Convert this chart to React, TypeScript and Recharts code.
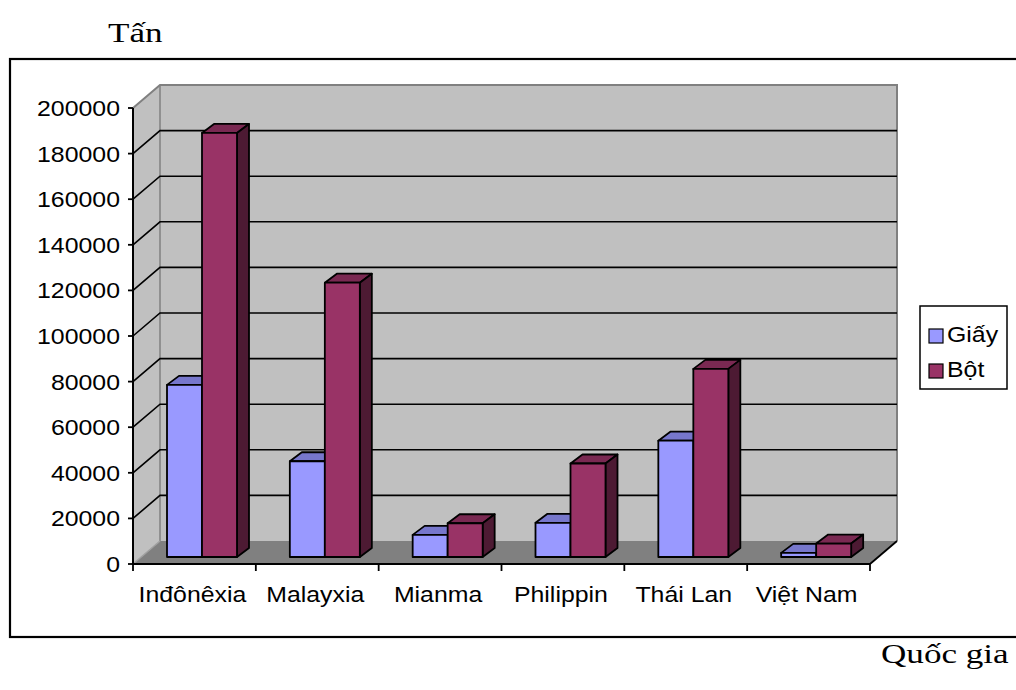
import React from 'react';
import { BarChart, Bar, XAxis, YAxis, CartesianGrid, Legend } from 'recharts';

const categories = ['Inđônêxia', 'Malayxia', 'Mianma', 'Philippin', 'Thái Lan', 'Việt Nam'];
const giayValues = [75500, 42000, 9700, 15000, 51000, 1800];
const botValues = [186000, 120300, 14800, 41000, 82500, 5900];
const yTicks = [0, 20000, 40000, 60000, 80000, 100000, 120000, 140000, 160000, 180000, 200000];
const seriesOrder = ['Giấy', 'Bột'];

const data = categories.map((name, i) => ({ name, giay: giayValues[i], bot: botValues[i] }));

// layout of the front plane (plot area)
const W = 1016;
const H = 690;
const LEFT = 133;
const RIGHT = 870;
const TOP = 108;
const BOTTOM = 564;
// depth of the 3D walls
const DX = 27;
const DY = 23;
// bars sit a bit behind the front plane
const BAR_OX = 8;
const BAR_OY = -7;
// depth of each bar box
const BOX_DX = 12;
const BOX_DY = 9;

const SANS = '"Liberation Sans", Arial, sans-serif';
const SERIF = '"Liberation Serif", "Times New Roman", serif';
const STRETCH = 1.13;

const faces = {
  giay: { front: '#9999ff', top: '#7777cc', side: '#4d4d80' },
  bot: { front: '#993366', top: '#7a2952', side: '#4d1a33' },
};

function makeBox(key: 'giay' | 'bot') {
  const c = faces[key];
  return (props: any) => {
    const { x, y, width, height } = props;
    if (x == null || height == null) return <g />;
    const fx = x + BAR_OX;
    const fy = y + BAR_OY;
    const w = width;
    const h = height;
    return (
      <g stroke="#000" strokeWidth={1.8} strokeLinejoin="round">
        <polygon
          points={`${fx},${fy} ${fx + BOX_DX},${fy - BOX_DY} ${fx + w + BOX_DX},${fy - BOX_DY} ${fx + w},${fy}`}
          fill={c.top}
        />
        <polygon
          points={`${fx + w},${fy} ${fx + w + BOX_DX},${fy - BOX_DY} ${fx + w + BOX_DX},${fy + h - BOX_DY} ${fx + w},${fy + h}`}
          fill={c.side}
        />
        <rect x={fx} y={fy} width={w} height={h} fill={c.front} />
      </g>
    );
  };
}

function Walls() {
  return (
    <g>
      <polygon points={`${LEFT},${TOP} ${LEFT + DX},${TOP - DY} ${LEFT + DX},${BOTTOM - DY} ${LEFT},${BOTTOM}`} fill="#c0c0c0" />
      <rect x={LEFT + DX} y={TOP - DY} width={RIGHT - LEFT} height={BOTTOM - TOP} fill="#c0c0c0" />
      <polygon
        points={`${LEFT},${BOTTOM} ${LEFT + DX},${BOTTOM - DY} ${RIGHT + DX},${BOTTOM - DY} ${RIGHT},${BOTTOM}`}
        fill="#808080"
      />
      <polyline
        points={`${LEFT},${TOP} ${LEFT + DX},${TOP - DY} ${RIGHT + DX},${TOP - DY} ${RIGHT + DX},${BOTTOM - DY}`}
        fill="none"
        stroke="#808080"
        strokeWidth={2}
      />
      <line x1={LEFT + DX} y1={TOP - DY} x2={LEFT + DX} y2={BOTTOM - DY} stroke="#808080" strokeWidth={1.5} />
      <line x1={LEFT} y1={BOTTOM} x2={LEFT + DX} y2={BOTTOM - DY} stroke="#a0a0a0" strokeWidth={1.5} />
      <line x1={RIGHT} y1={BOTTOM} x2={RIGHT + DX} y2={BOTTOM - DY} stroke="#000" strokeWidth={1.8} />
    </g>
  );
}

const gridLine = (props: any) => {
  const { x1, y1, x2, index } = props;
  const skip = Math.abs(y1 - BOTTOM) < 1 || Math.abs(y1 - TOP) < 1;
  return (
    <g key={`g-${index}`}>
      {index === 0 && <Walls />}
      {!skip && (
        <polyline
          points={`${x1},${y1} ${x1 + DX},${y1 - DY} ${x2 + DX},${y1 - DY}`}
          fill="none"
          stroke="#000"
          strokeWidth={1.6}
        />
      )}
    </g>
  );
};

const YTick = (props: any) => {
  const { x, y, payload } = props;
  return (
    <text
      transform={`translate(${x},${y + 8}) scale(${STRETCH},1)`}
      textAnchor="end"
      fontFamily={SANS}
      fontSize={22}
      fill="#000"
    >
      {payload.value}
    </text>
  );
};

const half = (RIGHT - LEFT) / categories.length / 2;

const XTick = (props: any) => {
  const { x, payload, index } = props;
  return (
    <g>
      <line x1={x - half} y1={BOTTOM} x2={x - half} y2={BOTTOM + 7} stroke="#000" strokeWidth={1.8} />
      {index === categories.length - 1 && (
        <line x1={x + half} y1={BOTTOM} x2={x + half} y2={BOTTOM + 7} stroke="#000" strokeWidth={1.8} />
      )}
      <text
        transform={`translate(${x - 2},${BOTTOM + 38}) scale(${STRETCH},1)`}
        textAnchor="middle"
        fontFamily={SANS}
        fontSize={22}
        fill="#000"
      >
        {payload.value}
      </text>
    </g>
  );
};

const renderLegend = (props: any) => {
  const items = [...(props.payload || [])].sort(
    (a: any, b: any) => seriesOrder.indexOf(a.value) - seriesOrder.indexOf(b.value)
  );
  return (
    <svg width={90} height={86} style={{ display: 'block' }}>
      <rect x={1} y={1} width={87} height={83} fill="#fff" stroke="#000" strokeWidth={1.5} />
      {items.map((it: any, i: number) => (
        <g key={it.value}>
          <rect x={10} y={24 + i * 35} width={14} height={14} fill={it.color} stroke="#000" strokeWidth={1.2} />
          <text
            transform={`translate(28,${37 + i * 35}) scale(${STRETCH},1)`}
            fontFamily={SANS}
            fontSize={22}
            fill="#000"
          >
            {it.value}
          </text>
        </g>
      ))}
    </svg>
  );
};

export default function App() {
  return (
    <div style={{ position: 'absolute', left: 0, top: 0, width: W, height: H, overflow: 'hidden', background: '#fff' }}>
      <BarChart
        width={W}
        height={H}
        data={data}
        margin={{ top: TOP, right: W - RIGHT, bottom: H - BOTTOM - 30, left: LEFT - 125 }}
        barGap={0}
        barSize={35}
      >
        <CartesianGrid horizontal={gridLine} vertical={false} />
        <XAxis
          dataKey="name"
          height={30}
          axisLine={{ stroke: '#000', strokeWidth: 2 }}
          tickLine={false}
          tick={XTick}
          interval={0}
        />
        <YAxis
          width={125}
          domain={[0, 200000]}
          ticks={yTicks}
          interval={0}
          axisLine={{ stroke: '#000', strokeWidth: 2 }}
          tickLine={{ stroke: '#000', strokeWidth: 1.8 }}
          tickSize={5}
          tickMargin={8}
          tick={YTick}
        />
        <Legend
          layout="horizontal"
          verticalAlign="middle"
          align="center"
          content={renderLegend}
          wrapperStyle={{ position: 'absolute', left: 919, top: 305, width: 90, height: 86 }}
        />
        <Bar dataKey="giay" name="Giấy" fill="#9999ff" shape={makeBox('giay')} isAnimationActive={false} />
        <Bar dataKey="bot" name="Bột" fill="#993366" shape={makeBox('bot')} isAnimationActive={false} />
      </BarChart>
      <svg
        width={W}
        height={H}
        style={{ position: 'absolute', left: 0, top: 0, pointerEvents: 'none' }}
      >
        <rect x={10} y={59} width={1100} height={578} fill="none" stroke="#000" strokeWidth={2.2} />
        <text transform="translate(108,42) scale(1.3,1)" fontFamily={SERIF} fontSize={27} fill="#000">
          Tấn
        </text>
        <text transform="translate(881,663) scale(1.3,1)" fontFamily={SERIF} fontSize={27} fill="#000">
          Quốc gia
        </text>
      </svg>
    </div>
  );
}
